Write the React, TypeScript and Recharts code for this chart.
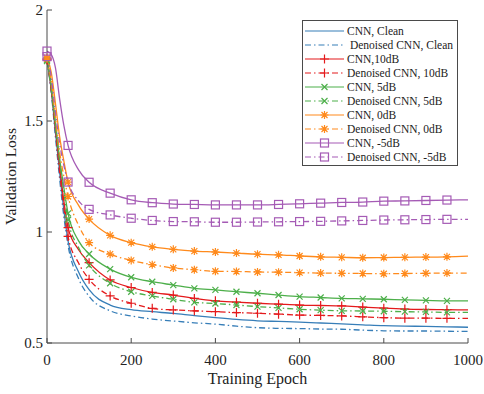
import React from "react";
import { LineChart, Line, XAxis, YAxis } from "recharts";

const EPOCHS = [0, 10, 20, 30, 40, 50, 75, 100, 150, 200, 250, 300, 350, 400, 450, 500, 550, 600, 650, 700, 750, 800, 850, 900, 950, 1000];

const CNN_CLEAN = [1.78, 1.64, 1.45, 1.27, 1.1, 0.96, 0.82, 0.74, 0.671, 0.65, 0.641, 0.633, 0.623, 0.614, 0.606, 0.6, 0.597, 0.594, 0.59, 0.586, 0.582, 0.578, 0.576, 0.575, 0.573, 0.571];
const DEN_CLEAN = [1.775, 1.63, 1.43, 1.24, 1.07, 0.94, 0.79, 0.71, 0.645, 0.622, 0.608, 0.599, 0.591, 0.585, 0.576, 0.569, 0.566, 0.565, 0.563, 0.562, 0.558, 0.555, 0.554, 0.554, 0.553, 0.552];
const CNN_10 = [1.78, 1.65, 1.47, 1.3, 1.14, 1.02, 0.92, 0.862, 0.784, 0.75, 0.728, 0.716, 0.701, 0.69, 0.684, 0.679, 0.675, 0.671, 0.669, 0.667, 0.662, 0.657, 0.653, 0.651, 0.65, 0.649];
const DEN_10 = [1.775, 1.64, 1.46, 1.27, 1.11, 0.98, 0.86, 0.787, 0.712, 0.679, 0.656, 0.649, 0.645, 0.641, 0.637, 0.634, 0.63, 0.626, 0.624, 0.622, 0.618, 0.614, 0.612, 0.612, 0.611, 0.611];
const CNN_5 = [1.775, 1.66, 1.49, 1.33, 1.2, 1.084, 0.96, 0.901, 0.833, 0.796, 0.776, 0.761, 0.746, 0.739, 0.731, 0.724, 0.716, 0.709, 0.705, 0.701, 0.699, 0.697, 0.694, 0.692, 0.69, 0.69];
const DEN_5 = [1.77, 1.65, 1.48, 1.32, 1.18, 1.055, 0.93, 0.85, 0.769, 0.731, 0.712, 0.697, 0.683, 0.678, 0.671, 0.664, 0.658, 0.652, 0.648, 0.645, 0.644, 0.643, 0.641, 0.64, 0.638, 0.638];
const CNN_0 = [1.785, 1.72, 1.58, 1.43, 1.32, 1.225, 1.12, 1.058, 0.985, 0.952, 0.933, 0.922, 0.914, 0.91, 0.905, 0.9, 0.897, 0.892, 0.888, 0.886, 0.884, 0.885, 0.886, 0.887, 0.888, 0.891];
const DEN_0 = [1.78, 1.68, 1.52, 1.36, 1.25, 1.16, 1.03, 0.952, 0.9, 0.872, 0.853, 0.838, 0.83, 0.823, 0.822, 0.82, 0.819, 0.817, 0.815, 0.814, 0.813, 0.812, 0.813, 0.814, 0.815, 0.815];
const CNN_M5 = [1.815, 1.8, 1.74, 1.6, 1.48, 1.39, 1.28, 1.224, 1.175, 1.145, 1.132, 1.126, 1.124, 1.122, 1.122, 1.122, 1.124, 1.127, 1.13, 1.133, 1.135, 1.139, 1.14, 1.142, 1.144, 1.145];
const DEN_M5 = [1.79, 1.7, 1.54, 1.4, 1.3, 1.225, 1.14, 1.102, 1.077, 1.062, 1.052, 1.047, 1.046, 1.044, 1.044, 1.045, 1.046, 1.047, 1.048, 1.05, 1.052, 1.054, 1.055, 1.056, 1.057, 1.057];

const X_TICKS = [0, 200, 400, 600, 800, 1000];
const Y_TICKS = [0.5, 1, 1.5, 2];

const SERIES = [
  { key: "cnnClean", name: "CNN, Clean", values: CNN_CLEAN, color: "#377eb8", dash: false, marker: "none" },
  { key: "denClean", name: " Denoised CNN, Clean", values: DEN_CLEAN, color: "#377eb8", dash: true, marker: "none" },
  { key: "cnn10", name: "CNN,10dB", values: CNN_10, color: "#e41a1c", dash: false, marker: "plus" },
  { key: "den10", name: "Denoised CNN, 10dB", values: DEN_10, color: "#e41a1c", dash: true, marker: "plus" },
  { key: "cnn5", name: "CNN, 5dB", values: CNN_5, color: "#4daf4a", dash: false, marker: "x" },
  { key: "den5", name: "Denoised CNN, 5dB", values: DEN_5, color: "#4daf4a", dash: true, marker: "x" },
  { key: "cnn0", name: "CNN, 0dB", values: CNN_0, color: "#ff8a1c", dash: false, marker: "star" },
  { key: "den0", name: "Denoised CNN, 0dB", values: DEN_0, color: "#ff8a1c", dash: true, marker: "star" },
  { key: "cnnM5", name: "CNN, -5dB", values: CNN_M5, color: "#a55bb5", dash: false, marker: "square" },
  { key: "denM5", name: "Denoised CNN, -5dB", values: DEN_M5, color: "#a55bb5", dash: true, marker: "square" },
];

const data = EPOCHS.map((epoch, i) => {
  const row: Record<string, number> = { epoch };
  SERIES.forEach((s) => {
    row[s.key] = s.values[i];
  });
  return row;
});

const AXIS = "#4a4a4a";
const FONT = "'Liberation Serif', 'Times New Roman', serif";
const DASH = "6 3 1.5 3";

function Marker({ type, cx, cy, color }: { type: string; cx: number; cy: number; color: string }) {
  const sw = 1.2;
  if (type === "plus") {
    return <path d={`M${cx - 4.5},${cy}H${cx + 4.5}M${cx},${cy - 4.5}V${cy + 4.5}`} stroke={color} strokeWidth={sw} fill="none" />;
  }
  if (type === "x") {
    return <path d={`M${cx - 3},${cy - 3}L${cx + 3},${cy + 3}M${cx - 3},${cy + 3}L${cx + 3},${cy - 3}`} stroke={color} strokeWidth={sw} fill="none" />;
  }
  if (type === "star") {
    return (
      <path
        d={`M${cx - 4},${cy}H${cx + 4}M${cx},${cy - 4}V${cy + 4}M${cx - 3},${cy - 3}L${cx + 3},${cy + 3}M${cx - 3},${cy + 3}L${cx + 3},${cy - 3}`}
        stroke={color}
        strokeWidth={sw}
        fill="none"
      />
    );
  }
  if (type === "square") {
    return <rect x={cx - 4} y={cy - 4} width={8} height={8} stroke={color} strokeWidth={sw} fill="none" />;
  }
  return null;
}

const makeDot = (type: string, color: string) => (props: any) => {
  const { cx, cy, payload, index } = props;
  if (type === "none" || payload.epoch % 50 !== 0 || payload.epoch >= 1000) {
    return <g key={`d${index}`} />;
  }
  return (
    <g key={`d${index}`}>
      <Marker type={type} cx={cx} cy={cy} color={color} />
    </g>
  );
};

const BottomTick = (props: any) => {
  const { x, y, payload } = props;
  return (
    <g>
      <line x1={x} x2={x} y1={y} y2={y - 5} stroke={AXIS} strokeWidth={1} />
      <text x={x} y={y + 17} textAnchor="middle" dominantBaseline="central" fontFamily={FONT} fontSize={15} fill="#222">
        {payload.value}
      </text>
    </g>
  );
};

const TopTick = (props: any) => {
  const { x, y } = props;
  return <line x1={x} x2={x} y1={y} y2={y + 5} stroke={AXIS} strokeWidth={1} />;
};

const LeftTick = (props: any) => {
  const { x, y, payload } = props;
  return (
    <g>
      <line x1={x} x2={x + 5} y1={y} y2={y} stroke={AXIS} strokeWidth={1} />
      <text x={x - 4} y={y} textAnchor="end" dominantBaseline="central" fontFamily={FONT} fontSize={15} fill="#222">
        {String(payload.value)}
      </text>
    </g>
  );
};

const RightTick = (props: any) => {
  const { x, y } = props;
  return <line x1={x} x2={x - 5} y1={y} y2={y} stroke={AXIS} strokeWidth={1} />;
};

function LegendBox() {
  return (
    <div
      style={{
        position: "absolute",
        left: 302,
        top: 20,
        width: 156,
        height: 146,
        boxSizing: "border-box",
        border: `1px solid ${AXIS}`,
        background: "#fff",
        paddingTop: 3,
      }}
    >
      {SERIES.map((s) => (
        <div key={s.key} style={{ height: 14.05, display: "flex", alignItems: "center" }}>
          <svg width={44} height={14} style={{ flex: "none" }}>
            <line x1={2} x2={41} y1={7} y2={7} stroke={s.color} strokeWidth={1.2} strokeDasharray={s.dash ? DASH : undefined} />
            <Marker type={s.marker} cx={21.5} cy={7} color={s.color} />
          </svg>
          <span style={{ fontFamily: FONT, fontSize: 11.5, color: "#222", whiteSpace: "pre", lineHeight: "14px" }}>{s.name}</span>
        </div>
      ))}
    </div>
  );
}

export default function App() {
  return (
    <div style={{ position: "absolute", left: 0, top: 0, width: 484, height: 394, background: "#fff" }}>
      <LineChart width={484} height={394} data={data} margin={{ top: 10, right: 16, bottom: 0, left: 0 }}>
        <XAxis
          dataKey="epoch"
          type="number"
          domain={[0, 1000]}
          ticks={X_TICKS}
          height={51}
          tickSize={0}
          tickMargin={0}
          tickLine={false}
          tick={<BottomTick />}
          axisLine={{ stroke: AXIS }}
          label={{ value: "Training Epoch", position: "insideBottom", offset: 10, style: { fontFamily: FONT, fontSize: 16, fill: "#222" } }}
        />
        <XAxis
          xAxisId="top"
          orientation="top"
          dataKey="epoch"
          type="number"
          domain={[0, 1000]}
          ticks={X_TICKS}
          height={0}
          tickSize={0}
          tickMargin={0}
          tickLine={false}
          tick={<TopTick />}
          axisLine={{ stroke: AXIS }}
        />
        <YAxis
          type="number"
          domain={[0.5, 2]}
          ticks={Y_TICKS}
          width={47}
          tickSize={0}
          tickMargin={0}
          tickLine={false}
          tick={<LeftTick />}
          axisLine={{ stroke: AXIS }}
          label={{ value: "Validation Loss", angle: -90, position: "insideLeft", offset: 10, style: { textAnchor: "middle", fontFamily: FONT, fontSize: 15.5, fill: "#222" } }}
        />
        <YAxis
          yAxisId="right"
          orientation="right"
          type="number"
          domain={[0.5, 2]}
          ticks={Y_TICKS}
          width={0}
          tickSize={0}
          tickMargin={0}
          tickLine={false}
          tick={<RightTick />}
          axisLine={{ stroke: AXIS }}
        />
        {SERIES.map((s) => (
          <Line
            key={s.key}
            dataKey={s.key}
            name={s.name}
            type="monotone"
            stroke={s.color}
            strokeWidth={1.3}
            strokeDasharray={s.dash ? DASH : undefined}
            dot={makeDot(s.marker, s.color)}
            activeDot={false}
            isAnimationActive={false}
          />
        ))}
      </LineChart>
      <LegendBox />
    </div>
  );
}
